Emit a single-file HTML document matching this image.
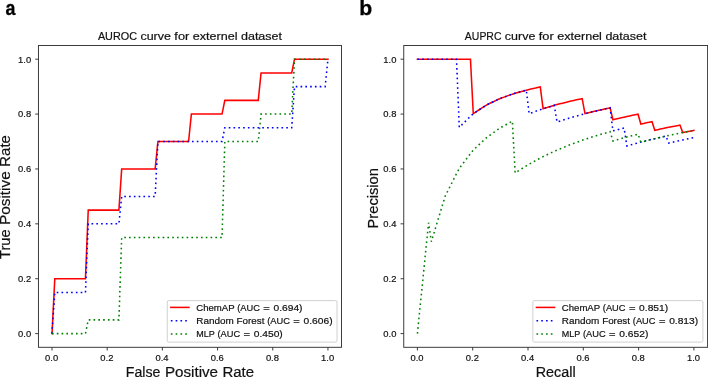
<!DOCTYPE html>
<html><head><meta charset="utf-8"><title>AUROC and AUPRC curves</title>
<style>html,body{margin:0;padding:0;background:#fff}svg{display:block;will-change:transform}text{font-family:"Liberation Sans",sans-serif;fill:#111;stroke:#111;stroke-width:0.2px}</style></head><body>
<svg width="708" height="377" viewBox="0 0 708 377">
<rect width="708" height="377" fill="#fff"/>
<polyline points="52.00,333.60 54.79,278.72 57.57,278.72 60.36,278.72 63.15,278.72 65.94,278.72 68.72,278.72 71.51,278.72 74.30,278.72 77.09,278.72 79.87,278.72 82.66,278.72 85.45,278.72 88.24,210.12 91.02,210.12 93.81,210.12 96.60,210.12 99.39,210.12 102.17,210.12 104.96,210.12 107.75,210.12 110.53,210.12 113.32,210.12 116.11,210.12 118.90,210.12 121.68,168.96 124.47,168.96 127.26,168.96 130.05,168.96 132.83,168.96 135.62,168.96 138.41,168.96 141.20,168.96 143.98,168.96 146.77,168.96 149.56,168.96 152.35,168.96 155.13,168.96 157.92,141.52 160.71,141.52 163.49,141.52 166.28,141.52 169.07,141.52 171.86,141.52 174.64,141.52 177.43,141.52 180.22,141.52 183.01,141.52 185.79,141.52 188.58,141.52 191.37,114.08 194.16,114.08 196.94,114.08 199.73,114.08 202.52,114.08 205.31,114.08 208.09,114.08 210.88,114.08 213.67,114.08 216.46,114.08 219.24,114.08 222.03,114.08 224.82,100.36 227.60,100.36 230.39,100.36 233.18,100.36 235.97,100.36 238.75,100.36 241.54,100.36 244.33,100.36 247.12,100.36 249.90,100.36 252.69,100.36 255.48,100.36 258.27,100.36 261.05,72.92 263.84,72.92 266.63,72.92 269.42,72.92 272.20,72.92 274.99,72.92 277.78,72.92 280.56,72.92 283.35,72.92 286.14,72.92 288.93,72.92 291.71,72.92 294.50,59.20 297.29,59.20 300.08,59.20 302.86,59.20 305.65,59.20 308.44,59.20 311.23,59.20 314.01,59.20 316.80,59.20 319.59,59.20 322.38,59.20 325.16,59.20 327.95,59.20" fill="none" stroke="#ff0000" stroke-width="1.55" stroke-linejoin="miter" stroke-linecap="square"/>
<polyline points="52.00,333.60 54.79,292.44 57.57,292.44 60.36,292.44 63.15,292.44 65.94,292.44 68.72,292.44 71.51,292.44 74.30,292.44 77.09,292.44 79.87,292.44 82.66,292.44 85.45,292.44 88.24,223.84 91.02,223.84 93.81,223.84 96.60,223.84 99.39,223.84 102.17,223.84 104.96,223.84 107.75,223.84 110.53,223.84 113.32,223.84 116.11,223.84 118.90,223.84 121.68,196.40 124.47,196.40 127.26,196.40 130.05,196.40 132.83,196.40 135.62,196.40 138.41,196.40 141.20,196.40 143.98,196.40 146.77,196.40 149.56,196.40 152.35,196.40 155.13,196.40 157.92,141.52 160.71,141.52 163.49,141.52 166.28,141.52 169.07,141.52 171.86,141.52 174.64,141.52 177.43,141.52 180.22,141.52 183.01,141.52 185.79,141.52 188.58,141.52 191.37,141.52 194.16,141.52 196.94,141.52 199.73,141.52 202.52,141.52 205.31,141.52 208.09,141.52 210.88,141.52 213.67,141.52 216.46,141.52 219.24,141.52 222.03,141.52 224.82,127.80 227.60,127.80 230.39,127.80 233.18,127.80 235.97,127.80 238.75,127.80 241.54,127.80 244.33,127.80 247.12,127.80 249.90,127.80 252.69,127.80 255.48,127.80 258.27,127.80 261.05,127.80 263.84,127.80 266.63,127.80 269.42,127.80 272.20,127.80 274.99,127.80 277.78,127.80 280.56,127.80 283.35,127.80 286.14,127.80 288.93,127.80 291.71,127.80 294.50,86.64 297.29,86.64 300.08,86.64 302.86,86.64 305.65,86.64 308.44,86.64 311.23,86.64 314.01,86.64 316.80,86.64 319.59,86.64 322.38,86.64 325.16,86.64 327.95,59.20" fill="none" stroke="#0000ff" stroke-width="1.55" stroke-linejoin="miter" stroke-linecap="butt" stroke-dasharray="1.65 3.145"/>
<polyline points="52.00,333.60 54.79,333.60 57.57,333.60 60.36,333.60 63.15,333.60 65.94,333.60 68.72,333.60 71.51,333.60 74.30,333.60 77.09,333.60 79.87,333.60 82.66,333.60 85.45,333.60 88.24,319.88 91.02,319.88 93.81,319.88 96.60,319.88 99.39,319.88 102.17,319.88 104.96,319.88 107.75,319.88 110.53,319.88 113.32,319.88 116.11,319.88 118.90,319.88 121.68,237.56 124.47,237.56 127.26,237.56 130.05,237.56 132.83,237.56 135.62,237.56 138.41,237.56 141.20,237.56 143.98,237.56 146.77,237.56 149.56,237.56 152.35,237.56 155.13,237.56 157.92,237.56 160.71,237.56 163.49,237.56 166.28,237.56 169.07,237.56 171.86,237.56 174.64,237.56 177.43,237.56 180.22,237.56 183.01,237.56 185.79,237.56 188.58,237.56 191.37,237.56 194.16,237.56 196.94,237.56 199.73,237.56 202.52,237.56 205.31,237.56 208.09,237.56 210.88,237.56 213.67,237.56 216.46,237.56 219.24,237.56 222.03,237.56 224.82,141.52 227.60,141.52 230.39,141.52 233.18,141.52 235.97,141.52 238.75,141.52 241.54,141.52 244.33,141.52 247.12,141.52 249.90,141.52 252.69,141.52 255.48,141.52 258.27,141.52 261.05,114.08 263.84,114.08 266.63,114.08 269.42,114.08 272.20,114.08 274.99,114.08 277.78,114.08 280.56,114.08 283.35,114.08 286.14,114.08 288.93,114.08 291.71,114.08 294.50,59.20 297.29,59.20 300.08,59.20 302.86,59.20 305.65,59.20 308.44,59.20 311.23,59.20 314.01,59.20 316.80,59.20 319.59,59.20 322.38,59.20 325.16,59.20 327.95,59.20" fill="none" stroke="#008000" stroke-width="1.55" stroke-linejoin="miter" stroke-linecap="butt" stroke-dasharray="1.65 3.145"/>
<rect x="38.45" y="45.50" width="303.05" height="301.80" fill="none" stroke="#333" stroke-width="0.95"/>
<line x1="52.00" y1="347.30" x2="52.00" y2="350.50" stroke="#333" stroke-width="0.95"/>
<line x1="35.25" y1="333.60" x2="38.45" y2="333.60" stroke="#333" stroke-width="0.95"/>
<text transform="translate(52.00 360.75)" font-size="9.86"><tspan x="-6.88" textLength="13.04" lengthAdjust="spacingAndGlyphs">0.0</tspan></text>
<text transform="translate(32.15 337.00)" font-size="9.86"><tspan x="-14.08" textLength="13.04" lengthAdjust="spacingAndGlyphs">0.0</tspan></text>
<line x1="107.19" y1="347.30" x2="107.19" y2="350.50" stroke="#333" stroke-width="0.95"/>
<line x1="35.25" y1="278.72" x2="38.45" y2="278.72" stroke="#333" stroke-width="0.95"/>
<text transform="translate(107.19 360.75)" font-size="9.86"><tspan x="-6.88" textLength="13.04" lengthAdjust="spacingAndGlyphs">0.2</tspan></text>
<text transform="translate(32.15 282.12)" font-size="9.86"><tspan x="-14.08" textLength="13.04" lengthAdjust="spacingAndGlyphs">0.2</tspan></text>
<line x1="162.38" y1="347.30" x2="162.38" y2="350.50" stroke="#333" stroke-width="0.95"/>
<line x1="35.25" y1="223.84" x2="38.45" y2="223.84" stroke="#333" stroke-width="0.95"/>
<text transform="translate(162.38 360.75)" font-size="9.86"><tspan x="-6.88" textLength="13.04" lengthAdjust="spacingAndGlyphs">0.4</tspan></text>
<text transform="translate(32.15 227.24)" font-size="9.86"><tspan x="-14.08" textLength="13.04" lengthAdjust="spacingAndGlyphs">0.4</tspan></text>
<line x1="217.57" y1="347.30" x2="217.57" y2="350.50" stroke="#333" stroke-width="0.95"/>
<line x1="35.25" y1="168.96" x2="38.45" y2="168.96" stroke="#333" stroke-width="0.95"/>
<text transform="translate(217.57 360.75)" font-size="9.86"><tspan x="-6.88" textLength="13.04" lengthAdjust="spacingAndGlyphs">0.6</tspan></text>
<text transform="translate(32.15 172.36)" font-size="9.86"><tspan x="-14.08" textLength="13.04" lengthAdjust="spacingAndGlyphs">0.6</tspan></text>
<line x1="272.76" y1="347.30" x2="272.76" y2="350.50" stroke="#333" stroke-width="0.95"/>
<line x1="35.25" y1="114.08" x2="38.45" y2="114.08" stroke="#333" stroke-width="0.95"/>
<text transform="translate(272.76 360.75)" font-size="9.86"><tspan x="-6.88" textLength="13.04" lengthAdjust="spacingAndGlyphs">0.8</tspan></text>
<text transform="translate(32.15 117.48)" font-size="9.86"><tspan x="-14.08" textLength="13.04" lengthAdjust="spacingAndGlyphs">0.8</tspan></text>
<line x1="327.95" y1="347.30" x2="327.95" y2="350.50" stroke="#333" stroke-width="0.95"/>
<line x1="35.25" y1="59.20" x2="38.45" y2="59.20" stroke="#333" stroke-width="0.95"/>
<text transform="translate(327.95 360.75)" font-size="9.86"><tspan x="-6.88" textLength="13.04" lengthAdjust="spacingAndGlyphs">1.0</tspan></text>
<text transform="translate(32.15 62.60)" font-size="9.86"><tspan x="-14.08" textLength="13.04" lengthAdjust="spacingAndGlyphs">1.0</tspan></text>
<text transform="translate(189.97 40.10)" font-size="11.52"><tspan x="-92.08" textLength="39.09" lengthAdjust="spacingAndGlyphs">AUROC</tspan> <tspan x="-49.54" textLength="30.46" lengthAdjust="spacingAndGlyphs">curve</tspan> <tspan x="-15.63" textLength="14.95" lengthAdjust="spacingAndGlyphs">for</tspan> <tspan x="2.78" textLength="44.75" lengthAdjust="spacingAndGlyphs">externel</tspan> <tspan x="50.99" textLength="41.10" lengthAdjust="spacingAndGlyphs">dataset</tspan></text>
<text transform="translate(189.97 376.70)" font-size="14.63"><tspan x="-64.13" textLength="34.64" lengthAdjust="spacingAndGlyphs">False</tspan> <tspan x="-25.10" textLength="53.20" lengthAdjust="spacingAndGlyphs">Positive</tspan> <tspan x="32.49" textLength="31.64" lengthAdjust="spacingAndGlyphs">Rate</tspan></text>
<text transform="translate(10.45 197.00) rotate(-90)" font-size="14.77"><tspan x="-62.04" textLength="29.59" lengthAdjust="spacingAndGlyphs">True</tspan> <tspan x="-28.03" textLength="53.70" lengthAdjust="spacingAndGlyphs">Positive</tspan> <tspan x="30.10" textLength="31.94" lengthAdjust="spacingAndGlyphs">Rate</tspan></text>
<rect x="167.25" y="300.60" width="169.75" height="41.50" rx="1.4" ry="1.4" fill="#fff" fill-opacity="0.8" stroke="#cccccc" stroke-opacity="0.9" stroke-width="1"/>
<line x1="170.85" y1="307.40" x2="188.95" y2="307.40" stroke="#ff0000" stroke-width="1.55" stroke-linecap="square"/>
<text transform="translate(196.25 310.80)" font-size="9.59"><tspan x="0.00" textLength="38.09" lengthAdjust="spacingAndGlyphs">ChemAP</tspan> <tspan x="40.96" textLength="22.67" lengthAdjust="spacingAndGlyphs">(AUC</tspan> <tspan x="67.05" textLength="6.50" lengthAdjust="spacingAndGlyphs">=</tspan> <tspan x="77.28" textLength="28.99" lengthAdjust="spacingAndGlyphs">0.694)</tspan></text>
<line x1="170.85" y1="320.80" x2="188.95" y2="320.80" stroke="#0000ff" stroke-width="1.55" stroke-linecap="butt" stroke-dasharray="1.65 3.145"/>
<text transform="translate(196.25 324.10)" font-size="9.59"><tspan x="0.00" textLength="37.47" lengthAdjust="spacingAndGlyphs">Random</tspan> <tspan x="40.35" textLength="27.77" lengthAdjust="spacingAndGlyphs">Forest</tspan> <tspan x="71.00" textLength="22.67" lengthAdjust="spacingAndGlyphs">(AUC</tspan> <tspan x="97.08" textLength="6.50" lengthAdjust="spacingAndGlyphs">=</tspan> <tspan x="107.32" textLength="28.99" lengthAdjust="spacingAndGlyphs">0.606)</tspan></text>
<line x1="170.85" y1="334.00" x2="188.95" y2="334.00" stroke="#008000" stroke-width="1.55" stroke-linecap="butt" stroke-dasharray="1.65 3.145"/>
<text transform="translate(196.25 337.40)" font-size="9.59"><tspan x="0.00" textLength="18.31" lengthAdjust="spacingAndGlyphs">MLP</tspan> <tspan x="21.18" textLength="22.67" lengthAdjust="spacingAndGlyphs">(AUC</tspan> <tspan x="47.27" textLength="6.50" lengthAdjust="spacingAndGlyphs">=</tspan> <tspan x="57.50" textLength="28.99" lengthAdjust="spacingAndGlyphs">0.450)</tspan></text>
<text transform="translate(5.60 15.2) scale(0.860 1)" font-size="20.8" font-weight="bold" style="fill:#000;stroke:#000;stroke-width:0.3px">a</text>
<polyline points="417.40,59.20 420.19,59.20 422.99,59.20 425.78,59.20 428.57,59.20 431.36,59.20 434.16,59.20 436.95,59.20 439.74,59.20 442.54,59.20 445.33,59.20 448.12,59.20 450.92,59.20 453.71,59.20 456.50,59.20 459.29,59.20 462.09,59.20 464.88,59.20 467.67,59.20 470.47,59.20 473.26,113.71 476.05,111.86 478.84,110.01 481.64,108.17 484.43,106.32 487.22,104.60 490.02,103.28 492.81,101.96 495.60,100.64 498.39,99.32 501.19,98.10 503.98,97.11 506.77,96.12 509.57,95.13 512.36,94.14 515.15,93.23 517.95,92.46 520.74,91.69 523.53,90.92 526.32,90.15 529.12,89.44 531.91,88.83 534.70,88.21 537.50,87.59 540.29,86.98 543.08,108.71 545.87,107.87 548.67,107.03 551.46,106.19 554.25,105.35 557.05,104.58 559.84,103.87 562.63,103.16 565.43,102.45 568.22,101.74 571.01,101.08 573.80,100.47 576.60,99.86 579.39,99.25 582.18,98.64 584.98,113.66 587.77,112.97 590.56,112.28 593.35,111.59 596.15,110.89 598.94,110.25 601.73,109.64 604.53,109.03 607.32,108.42 610.11,107.81 612.91,119.72 615.70,119.08 618.49,118.43 621.28,117.78 624.08,117.13 626.87,116.53 629.66,115.95 632.46,115.36 635.25,114.78 638.04,114.20 640.83,124.05 643.63,123.45 646.42,122.85 649.21,122.25 652.01,121.65 654.80,130.27 657.59,129.67 660.38,129.07 663.18,128.46 665.97,127.86 668.76,127.30 671.56,126.75 674.35,126.19 677.14,125.64 679.94,125.08 682.73,132.55 685.52,132.00 688.31,131.45 691.11,130.89 693.90,130.34" fill="none" stroke="#ff0000" stroke-width="1.55" stroke-linejoin="miter" stroke-linecap="square"/>
<polyline points="417.40,59.20 420.19,59.20 422.99,59.20 425.78,59.20 428.57,59.20 431.36,59.20 434.16,59.20 436.95,59.20 439.74,59.20 442.54,59.20 445.33,59.20 448.12,59.20 450.92,59.20 453.71,59.20 456.50,59.20 459.29,127.38 462.09,124.61 464.88,121.84 467.67,119.07 470.47,116.30 473.26,113.71 476.05,111.86 478.84,110.01 481.64,108.17 484.43,106.32 487.22,104.60 490.02,103.28 492.81,101.96 495.60,100.64 498.39,99.32 501.19,98.10 503.98,97.11 506.77,96.12 509.57,95.13 512.36,94.14 515.15,93.23 517.95,92.46 520.74,91.69 523.53,90.92 526.32,90.15 529.12,113.68 531.91,112.67 534.70,111.66 537.50,110.65 540.29,109.65 543.08,108.71 545.87,107.87 548.67,107.03 551.46,106.19 554.25,105.35 557.05,122.07 559.84,121.15 562.63,120.24 565.43,119.32 568.22,118.41 571.01,117.56 573.80,116.77 576.60,115.98 579.39,115.19 582.18,114.40 584.98,113.66 587.77,112.97 590.56,112.28 593.35,111.59 596.15,110.89 598.94,110.25 601.73,109.64 604.53,109.03 607.32,108.42 610.11,107.81 612.91,130.90 615.70,130.17 618.49,129.44 621.28,128.71 624.08,127.98 626.87,145.93 629.66,145.17 632.46,144.40 635.25,143.63 638.04,142.87 640.83,142.15 643.63,141.45 646.42,140.74 649.21,140.04 652.01,139.34 654.80,138.68 657.59,138.04 660.38,137.39 663.18,136.74 665.97,136.10 668.76,143.06 671.56,142.43 674.35,141.80 677.14,141.17 679.94,140.54 682.73,139.95 685.52,139.36 688.31,138.77 691.11,138.19 693.90,137.60" fill="none" stroke="#0000ff" stroke-width="1.55" stroke-linejoin="miter" stroke-linecap="butt" stroke-dasharray="1.65 3.145"/>
<polyline points="417.40,333.60 420.19,305.88 422.99,278.17 425.78,250.45 428.57,222.73 431.36,241.67 434.16,232.43 436.95,223.19 439.74,213.95 442.54,204.72 445.33,195.85 448.12,190.30 450.92,184.76 453.71,179.22 456.50,173.67 459.29,168.41 462.09,164.71 464.88,161.01 467.67,157.32 470.47,153.62 473.26,150.14 476.05,147.50 478.84,144.86 481.64,142.22 484.43,139.58 487.22,137.11 490.02,135.13 492.81,133.15 495.60,131.17 498.39,129.19 501.19,127.34 503.98,125.80 506.77,124.26 509.57,122.72 512.36,121.18 515.15,172.91 517.95,171.13 520.74,169.36 523.53,167.58 526.32,165.80 529.12,164.13 531.91,162.61 534.70,161.08 537.50,159.56 540.29,158.04 543.08,156.61 545.87,155.29 548.67,153.97 551.46,152.65 554.25,151.33 557.05,150.09 559.84,148.93 562.63,147.78 565.43,146.62 568.22,145.47 571.01,144.39 573.80,143.37 576.60,142.35 579.39,141.33 582.18,140.31 584.98,139.36 587.77,138.46 590.56,137.55 593.35,136.65 596.15,135.74 598.94,134.90 601.73,134.08 604.53,133.27 607.32,132.46 610.11,131.65 612.91,140.97 615.70,140.17 618.49,139.38 621.28,138.59 624.08,137.80 626.87,137.06 629.66,136.34 632.46,135.62 635.25,134.90 638.04,134.18 640.83,142.15 643.63,141.45 646.42,140.74 649.21,140.04 652.01,139.34 654.80,138.68 657.59,138.04 660.38,137.39 663.18,136.74 665.97,136.10 668.76,135.49 671.56,134.90 674.35,134.30 677.14,133.70 679.94,133.11 682.73,132.55 685.52,132.00 688.31,131.45 691.11,130.89 693.90,130.34" fill="none" stroke="#008000" stroke-width="1.55" stroke-linejoin="miter" stroke-linecap="butt" stroke-dasharray="1.65 3.145"/>
<rect x="403.75" y="45.50" width="303.85" height="301.80" fill="none" stroke="#333" stroke-width="0.95"/>
<line x1="417.40" y1="347.30" x2="417.40" y2="350.50" stroke="#333" stroke-width="0.95"/>
<line x1="400.55" y1="333.60" x2="403.75" y2="333.60" stroke="#333" stroke-width="0.95"/>
<text transform="translate(417.40 360.75)" font-size="9.86"><tspan x="-6.88" textLength="13.04" lengthAdjust="spacingAndGlyphs">0.0</tspan></text>
<text transform="translate(397.45 337.00)" font-size="9.86"><tspan x="-14.08" textLength="13.04" lengthAdjust="spacingAndGlyphs">0.0</tspan></text>
<line x1="472.70" y1="347.30" x2="472.70" y2="350.50" stroke="#333" stroke-width="0.95"/>
<line x1="400.55" y1="278.72" x2="403.75" y2="278.72" stroke="#333" stroke-width="0.95"/>
<text transform="translate(472.70 360.75)" font-size="9.86"><tspan x="-6.88" textLength="13.04" lengthAdjust="spacingAndGlyphs">0.2</tspan></text>
<text transform="translate(397.45 282.12)" font-size="9.86"><tspan x="-14.08" textLength="13.04" lengthAdjust="spacingAndGlyphs">0.2</tspan></text>
<line x1="528.00" y1="347.30" x2="528.00" y2="350.50" stroke="#333" stroke-width="0.95"/>
<line x1="400.55" y1="223.84" x2="403.75" y2="223.84" stroke="#333" stroke-width="0.95"/>
<text transform="translate(528.00 360.75)" font-size="9.86"><tspan x="-6.88" textLength="13.04" lengthAdjust="spacingAndGlyphs">0.4</tspan></text>
<text transform="translate(397.45 227.24)" font-size="9.86"><tspan x="-14.08" textLength="13.04" lengthAdjust="spacingAndGlyphs">0.4</tspan></text>
<line x1="583.30" y1="347.30" x2="583.30" y2="350.50" stroke="#333" stroke-width="0.95"/>
<line x1="400.55" y1="168.96" x2="403.75" y2="168.96" stroke="#333" stroke-width="0.95"/>
<text transform="translate(583.30 360.75)" font-size="9.86"><tspan x="-6.88" textLength="13.04" lengthAdjust="spacingAndGlyphs">0.6</tspan></text>
<text transform="translate(397.45 172.36)" font-size="9.86"><tspan x="-14.08" textLength="13.04" lengthAdjust="spacingAndGlyphs">0.6</tspan></text>
<line x1="638.60" y1="347.30" x2="638.60" y2="350.50" stroke="#333" stroke-width="0.95"/>
<line x1="400.55" y1="114.08" x2="403.75" y2="114.08" stroke="#333" stroke-width="0.95"/>
<text transform="translate(638.60 360.75)" font-size="9.86"><tspan x="-6.88" textLength="13.04" lengthAdjust="spacingAndGlyphs">0.8</tspan></text>
<text transform="translate(397.45 117.48)" font-size="9.86"><tspan x="-14.08" textLength="13.04" lengthAdjust="spacingAndGlyphs">0.8</tspan></text>
<line x1="693.90" y1="347.30" x2="693.90" y2="350.50" stroke="#333" stroke-width="0.95"/>
<line x1="400.55" y1="59.20" x2="403.75" y2="59.20" stroke="#333" stroke-width="0.95"/>
<text transform="translate(693.90 360.75)" font-size="9.86"><tspan x="-6.88" textLength="13.04" lengthAdjust="spacingAndGlyphs">1.0</tspan></text>
<text transform="translate(397.45 62.60)" font-size="9.86"><tspan x="-14.08" textLength="13.04" lengthAdjust="spacingAndGlyphs">1.0</tspan></text>
<text transform="translate(555.67 40.10)" font-size="11.52"><tspan x="-90.81" textLength="36.55" lengthAdjust="spacingAndGlyphs">AUPRC</tspan> <tspan x="-50.81" textLength="30.46" lengthAdjust="spacingAndGlyphs">curve</tspan> <tspan x="-16.90" textLength="14.95" lengthAdjust="spacingAndGlyphs">for</tspan> <tspan x="1.51" textLength="44.75" lengthAdjust="spacingAndGlyphs">externel</tspan> <tspan x="49.72" textLength="41.10" lengthAdjust="spacingAndGlyphs">dataset</tspan></text>
<text transform="translate(555.67 376.70)" font-size="14.15"><tspan x="-19.91" textLength="39.83" lengthAdjust="spacingAndGlyphs">Recall</tspan></text>
<text transform="translate(377.75 198.30) rotate(-90)" font-size="14.31"><tspan x="-30.12" textLength="60.24" lengthAdjust="spacingAndGlyphs">Precision</tspan></text>
<rect x="532.85" y="300.60" width="170.05" height="41.50" rx="1.4" ry="1.4" fill="#fff" fill-opacity="0.8" stroke="#cccccc" stroke-opacity="0.9" stroke-width="1"/>
<line x1="536.45" y1="307.40" x2="554.55" y2="307.40" stroke="#ff0000" stroke-width="1.55" stroke-linecap="square"/>
<text transform="translate(561.85 310.80)" font-size="9.59"><tspan x="0.00" textLength="38.09" lengthAdjust="spacingAndGlyphs">ChemAP</tspan> <tspan x="40.96" textLength="22.67" lengthAdjust="spacingAndGlyphs">(AUC</tspan> <tspan x="67.05" textLength="6.50" lengthAdjust="spacingAndGlyphs">=</tspan> <tspan x="77.28" textLength="28.99" lengthAdjust="spacingAndGlyphs">0.851)</tspan></text>
<line x1="536.45" y1="320.80" x2="554.55" y2="320.80" stroke="#0000ff" stroke-width="1.55" stroke-linecap="butt" stroke-dasharray="1.65 3.145"/>
<text transform="translate(561.85 324.10)" font-size="9.59"><tspan x="0.00" textLength="37.47" lengthAdjust="spacingAndGlyphs">Random</tspan> <tspan x="40.35" textLength="27.77" lengthAdjust="spacingAndGlyphs">Forest</tspan> <tspan x="71.00" textLength="22.67" lengthAdjust="spacingAndGlyphs">(AUC</tspan> <tspan x="97.08" textLength="6.50" lengthAdjust="spacingAndGlyphs">=</tspan> <tspan x="107.32" textLength="28.99" lengthAdjust="spacingAndGlyphs">0.813)</tspan></text>
<line x1="536.45" y1="334.00" x2="554.55" y2="334.00" stroke="#008000" stroke-width="1.55" stroke-linecap="butt" stroke-dasharray="1.65 3.145"/>
<text transform="translate(561.85 337.40)" font-size="9.59"><tspan x="0.00" textLength="18.31" lengthAdjust="spacingAndGlyphs">MLP</tspan> <tspan x="21.18" textLength="22.67" lengthAdjust="spacingAndGlyphs">(AUC</tspan> <tspan x="47.27" textLength="6.50" lengthAdjust="spacingAndGlyphs">=</tspan> <tspan x="57.50" textLength="28.99" lengthAdjust="spacingAndGlyphs">0.652)</tspan></text>
<text transform="translate(359.20 15.2) scale(1.020 1)" font-size="20.8" font-weight="bold" style="fill:#000;stroke:#000;stroke-width:0.3px">b</text>
</svg></body></html>
